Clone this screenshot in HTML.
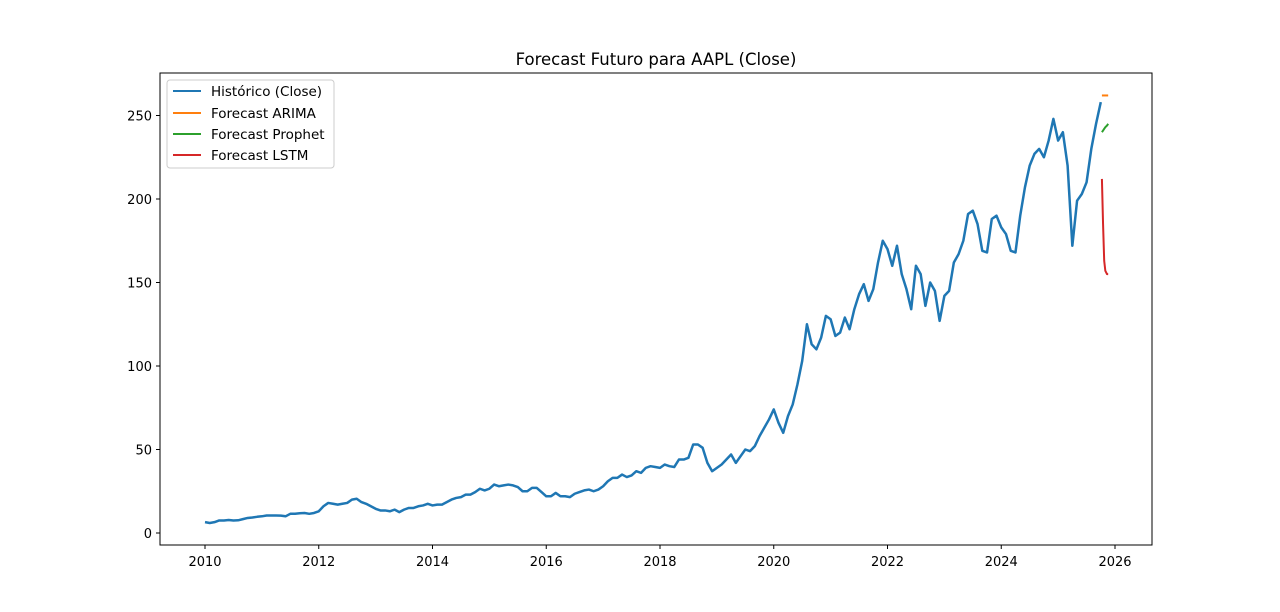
<!DOCTYPE html>
<html><head><meta charset="utf-8"><style>
body{margin:0;background:#fff;}
svg{display:block;font-family:"DejaVu Sans","Liberation Sans",sans-serif;}
</style></head><body>
<svg id="chart" width="1280" height="612">
<rect width="1280" height="612" fill="#fff"/>
<text x="656" y="65" text-anchor="middle" font-size="16.5">Forecast Futuro para AAPL (Close)</text>
<g id="plot"></g>
<rect x="160" y="73" width="992" height="472" fill="none" stroke="#000" stroke-width="1"/>
<g id="axes"></g>
<g>
<rect x="167" y="80" width="167" height="88" rx="3" fill="#fff" fill-opacity="0.8" stroke="#ccc"/>
<g><line x1="173" y1="91" x2="201" y2="91" stroke="#1f77b4" stroke-width="2"/><text x="211" y="96" font-size="13.5">Histórico (Close)</text></g>
<g><line x1="173" y1="113" x2="201" y2="113" stroke="#ff7f0e" stroke-width="2"/><text x="211" y="118" font-size="13.5">Forecast ARIMA</text></g>
<g><line x1="173" y1="134" x2="201" y2="134" stroke="#2ca02c" stroke-width="2"/><text x="211" y="139" font-size="13.5">Forecast Prophet</text></g>
<g><line x1="173" y1="155" x2="201" y2="155" stroke="#d62728" stroke-width="2"/><text x="211" y="160" font-size="13.5">Forecast LSTM</text></g>
</g>
</svg>
<script>
const histStartYear = 2010;
const histMonthly = [
6.5,6,6.5,7.5,7.5,7.8,7.5,7.6,8.3,9,9.3,9.7,
10,10.5,10.5,10.5,10.4,10,11.5,11.5,11.8,12,11.5,12,
13,16,18,17.5,17,17.5,18,20,20.5,18.5,17.5,16,
14.5,13.5,13.5,13,14,12.5,14,15,15,16,16.5,17.5,
16.5,17,17,18.5,20,21,21.5,23,23,24.5,26.5,25.5,
26.5,29,28,28.5,29,28.5,27.5,25,25,27,27,24.5,
22,22,24,22,22,21.5,23.5,24.5,25.5,26,25,26,
28,31,33,33,35,33.5,34.5,37,36,39,40,39.5,
39,41,40,39.5,44,44,45,53,53,51,42,37,
39,41,44,47,42,46,50,49,52,58,63,68,
74,66,60,70,77,89,103,125,113,110,117,130,
128,118,120,129,122,134,143,149,139,146,162,175,
170,160,172,155,146,134,160,155,136,150,145,127,
142,145,162,167,175,191,193,185,169,168,188,190,
183,179,169,168,190,207,220,227,230,225,235,248,
235,240,220,172,199,203,210,230,245,258
];
const fcX = [2025.77,2025.79,2025.81,2025.83,2025.86,2025.88];
const arima = [262,262,262,262,262,262];
const prophet = [240,241,242,243,244,245];
const lstm = [212,185,163,157,155,155];
const xTicks = [2010,2012,2014,2016,2018,2020,2022,2024,2026];
const yTicks = [0,50,100,150,200,250];

const X = y => 205 + (y - 2010) * 56.875;
const Y = v => 533 - v * 1.67;
const NS = "http://www.w3.org/2000/svg";
const plot = document.getElementById('plot'), axes = document.getElementById('axes');
function line(xs, ys, color, name, w){
  const p = document.createElementNS(NS,'polyline');
  p.setAttribute('points', xs.map((x,i)=>X(x)+','+Y(ys[i])).join(' '));
  p.setAttribute('fill','none'); p.setAttribute('stroke',color); p.setAttribute('stroke-width', w);
  p.setAttribute('stroke-linejoin','round');
  
  
  plot.appendChild(p);
}
const hx = histMonthly.map((v,i)=>histStartYear + i/12);
line(hx, histMonthly, '#1f77b4', 'historico-line', 2.5);
line(fcX, arima, '#ff7f0e', 'arima-line', 2);
line(fcX, prophet, '#2ca02c', 'prophet-line', 2);
line(fcX, lstm, '#d62728', 'lstm-line', 2);
xTicks.forEach(t=>{
  const g = document.createElementNS(NS,'g');
  
  
  g.innerHTML = `<line x1="${X(t)}" y1="545" x2="${X(t)}" y2="549" stroke="#000"/><text x="${X(t)}" y="566" font-size="13" text-anchor="middle">${t}</text>`;
  axes.appendChild(g);
});
yTicks.forEach(t=>{
  const g = document.createElementNS(NS,'g');
  
  
  g.innerHTML = `<line x1="156" y1="${Y(t)}" x2="160" y2="${Y(t)}" stroke="#000"/><text x="152" y="${Y(t)+5}" font-size="13" text-anchor="end">${t}</text>`;
  axes.appendChild(g);
});
</script>
</body></html>
